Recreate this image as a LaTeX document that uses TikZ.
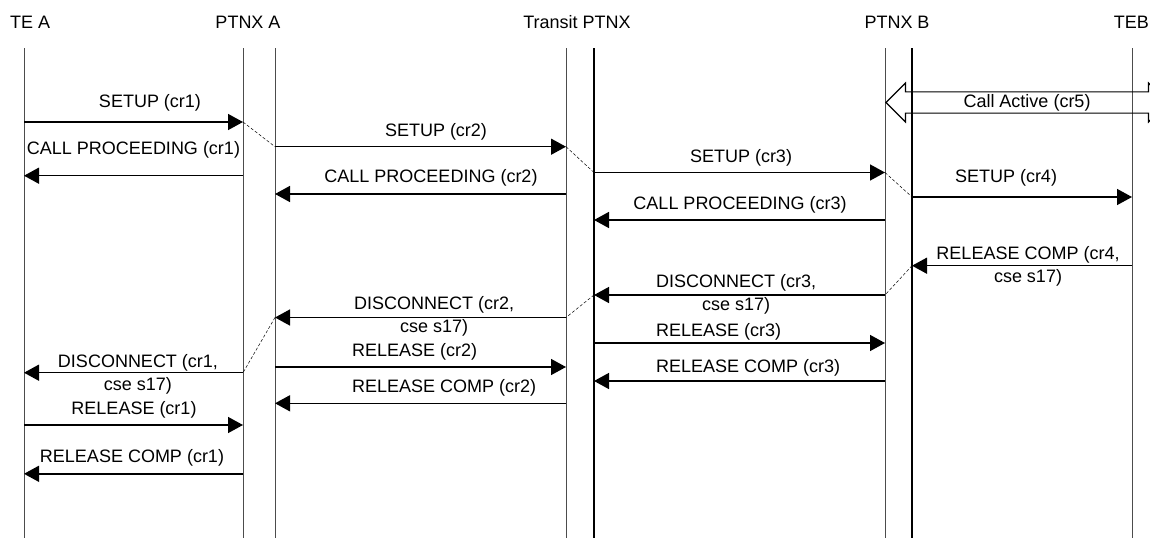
\documentclass[tikz,border=0pt]{standalone}
\usepackage{fontspec}
\setmainfont{Liberation Sans}
\usepackage{tikz}
\usetikzlibrary{arrows.meta, positioning, shapes.arrows}

\tikzset{
  lifeline/.style={draw=black!70, line width=0.9pt},
  lifelinebold/.style={draw=black, line width=1.8pt},
  msg/.style={-{Triangle[length=15pt, width=16pt]}, line width=1.5pt},
  hop/.style={dashed, dash pattern=on 3pt off 2pt, line width=0.5pt},
  lbl/.style={font=\fontsize{18}{23}\selectfont, inner sep=0pt, align=center},
  title/.style={font=\fontsize{18}{21}\selectfont, inner sep=0pt}
}

\begin{document}
\begin{tikzpicture}[x=1pt, y=-1pt]
  \useasboundingbox (0,0) rectangle (1150,538);

  % Entity names
  \node[title, anchor=west] (tea-name) at (10,22) {TE A};
  \node[title] (pxa-name) at (248,22) {PTNX A};
  \node[title] (tr-name) at (577,22) {Transit PTNX};
  \node[title] (pxb-name) at (897,22) {PTNX B};
  \node[title, anchor=east] (teb-name) at (1149,22) {TEB};

  % Lifelines
  \foreach \n/\x/\s in {tea/24/lifeline, pxa1/243/lifeline, pxa2/275/lifeline,
                        tr1/566/lifeline, tr2/594/lifelinebold, pxb1/885/lifeline,
                        pxb2/912/lifelinebold, teb/1132/lifeline} {
    \coordinate (\n) at (\x,48);
    \coordinate (\n-end) at (\x,538);
    \draw[\s] (\n) -- (\n-end);
  }

  % Messages
  \foreach \m/\a/\b/\y in {su1/tea/pxa1/122, su2/pxa2/tr1/146.7, cp1/pxa1/tea/175.7,
                           su3/tr2/pxb1/172.5, cp2/tr1/pxa2/194, su4/pxb2/teb/197,
                           cp3/pxb1/tr2/220, rc4/teb/pxb2/265.7, dc3/pxb1/tr2/295,
                           dc2/tr1/pxa2/317.5, rl3/tr2/pxb1/343, dc1/pxa1/tea/372.7,
                           rl2/pxa2/tr1/367, rc3/pxb1/tr2/381, rc2/tr1/pxa2/403.3,
                           rl1/tea/pxa1/425, rc1/pxa1/tea/473.8} {
    \coordinate (\m-a) at (\a |- 0,\y);
    \coordinate (\m-b) at (\b |- 0,\y);
    \draw[msg] (\m-a) -- (\m-b);
  }

  % Hand-over between call references
  \draw[hop] (su1-b) -- (su2-a);
  \draw[hop] (su2-b) -- (su3-a);
  \draw[hop] (su3-b) -- (su4-a);
  \draw[hop] (rc4-b) -- (dc3-a);
  \draw[hop] (dc3-b) -- (dc2-a);
  \draw[hop] (dc2-b) -- (dc1-a);

  % Active call on the far side
  \node[double arrow, draw, line width=1.2pt, double arrow head extend=7.5pt,
        minimum height=282pt, minimum width=39pt, inner sep=0pt, lbl]
        (active) at (1027,102.5) {Call Active (cr5)};

  % Labels
  \node[lbl] (su1-l) at (150,103) {SETUP (cr1)};
  \node[lbl] (su2-l) at (436,132) {SETUP (cr2)};
  \node[lbl] (cp1-l) at (133.5,150) {CALL PROCEEDING (cr1)};
  \node[lbl] (su3-l) at (741,158) {SETUP (cr3)};
  \node[lbl] (cp2-l) at (431,178) {CALL PROCEEDING (cr2)};
  \node[lbl] (su4-l) at (1006,178) {SETUP (cr4)};
  \node[lbl] (cp3-l) at (740,205) {CALL PROCEEDING (cr3)};
  \node[lbl] (rc4-l) at (1028,266.5) {RELEASE COMP (cr4,\\cse s17)};
  \node[lbl, anchor=west] (dc3-l) at (656,294) {DISCONNECT (cr3,\\cse s17)};
  \node[lbl, anchor=west] (dc2-l) at (354,316.5) {DISCONNECT (cr2,\\cse s17)};
  \node[lbl, anchor=west] (rl3-l) at (656,332) {RELEASE (cr3)};
  \node[lbl] (dc1-l) at (138,374) {DISCONNECT (cr1,\\cse s17)};
  \node[lbl, anchor=west] (rl2-l) at (352,352) {RELEASE (cr2)};
  \node[lbl, anchor=west] (rc3-l) at (656,368) {RELEASE COMP (cr3)};
  \node[lbl, anchor=west] (rc2-l) at (352,388) {RELEASE COMP (cr2)};
  \node[lbl] (rl1-l) at (134,410) {RELEASE (cr1)};
  \node[lbl] (rc1-l) at (132,458) {RELEASE COMP (cr1)};
\end{tikzpicture}
\end{document}
